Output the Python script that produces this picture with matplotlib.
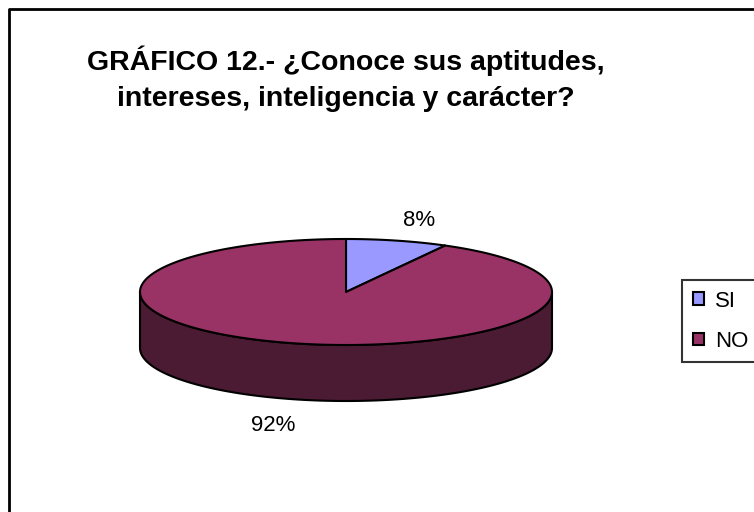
import numpy as np
import matplotlib
matplotlib.use("Agg")
import matplotlib.pyplot as plt
from matplotlib.patches import Polygon, Patch

plt.rcParams['font.family'] = ['Liberation Sans', 'DejaVu Sans']

title = "GRÁFICO 12.- ¿Conoce sus aptitudes,\nintereses, inteligencia y carácter?"
labels = ["SI", "NO"]
values = [8, 92]
top_colors = ["#9999ff", "#993366"]
side_colors = ["#4c4c80", "#4b1a33"]

# pie geometry in pixel units (y grows downwards)
cx, cy = 346, 292
ra, rb = 206, 53
depth = 56

fig = plt.figure(figsize=(7.54, 5.12), dpi=100)
ax = fig.add_axes([0, 0, 1, 1])
ax.set_xlim(0, 754)
ax.set_ylim(512, 0)
ax.axis('off')

# chart area border (runs off the right and bottom)
ax.plot([9, 9, 800], [600, 9, 9], color='black', lw=2, solid_capstyle='butt')


def ell(t, dz=0):
    t = np.radians(t)
    return np.column_stack([cx + ra * np.cos(t), cy - rb * np.sin(t) + dz])


total = float(sum(values))
starts = 90 - 360 * np.concatenate([[0], np.cumsum(values)[:-1]]) / total
ends = starts - 360 * np.array(values) / total

# front side wall: visible where the angle lies in [-180, 0]
for t0, t1, col in zip(starts, ends, side_colors):
    for k in (-360, 0, 360):
        lo, hi = max(t1 + k, -180), min(t0 + k, 0)
        if hi <= lo:
            continue
        t = np.linspace(lo, hi, 200)
        pts = np.vstack([ell(t), ell(t[::-1], depth)])
        ax.add_patch(Polygon(pts, closed=True, facecolor=col,
                             edgecolor='black', lw=1.5, joinstyle='round'))

# top face
for t0, t1, col in zip(starts, ends, top_colors):
    t = np.linspace(t0, t1, 300)
    pts = np.vstack([[cx, cy], ell(t)])
    ax.add_patch(Polygon(pts, closed=True, facecolor=col,
                         edgecolor='black', lw=1.5, joinstyle='round'))

# percentage labels
for t0, t1, v in zip(starts, ends, values):
    m = np.radians((t0 + t1) / 2)
    x = cx + ra * 1.43 * np.cos(m)
    y = cy - rb * 1.45 * np.sin(m) + 3
    if np.sin(m) < 0:
        y += depth
    ax.text(x, y, "%d%%" % round(100 * v / total), ha='center', va='center',
            fontsize=16)

ax.text(346, 79, title, ha='center', va='center', fontsize=20.5,
        fontweight='bold', linespacing=1.5)

handles = [Patch(facecolor=c, edgecolor='black', lw=1.5) for c in top_colors]
leg = ax.legend(handles, labels, loc='upper left',
                bbox_to_anchor=(682 / 754, 1 - 280 / 512, 0.2, 0.0),
                mode='expand', fontsize=16, frameon=True, fancybox=False,
                handlelength=0.5, handleheight=0.5, handletextpad=0.5,
                labelspacing=0.86, borderpad=0.48, borderaxespad=0)
leg.get_frame().set_edgecolor('black')
leg.get_frame().set_linewidth(1.5)

fig.savefig("out.png", dpi=100)
